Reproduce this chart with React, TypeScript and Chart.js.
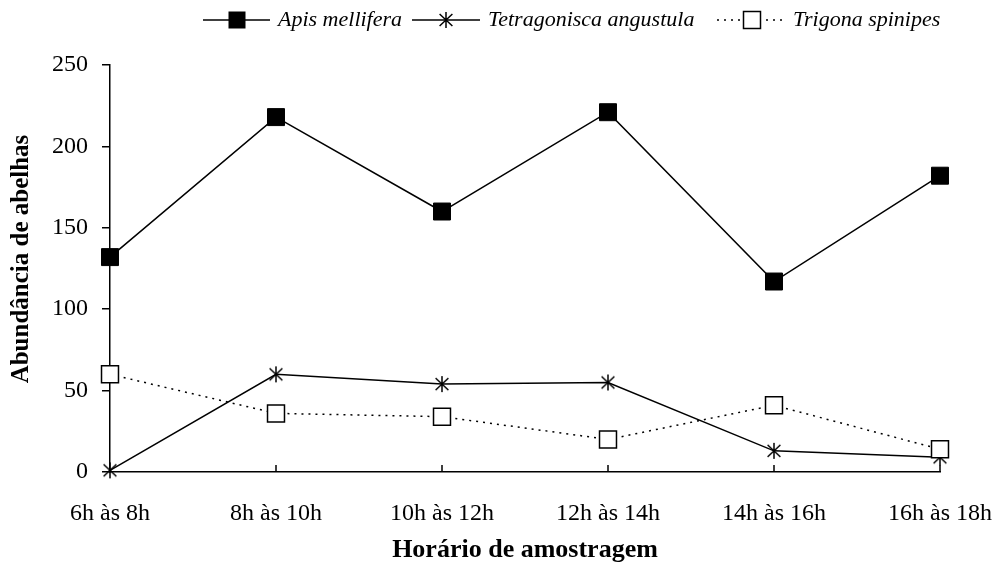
import React, { useEffect, useRef } from "react";
import { Chart, registerables } from "chart.js";

Chart.register(...registerables);

const categories = ["6h às 8h", "8h às 10h", "10h às 12h", "12h às 14h", "14h às 16h", "16h às 18h"];
const apisMellifera = [132, 218, 160, 221, 117, 182];
const tetragoniscaAngustula = [1, 60, 54, 55, 13, 9];
const trigonaSpinipes = [60, 36, 34, 20, 41, 14];
const seriesNames = ["Apis mellifera", "Tetragonisca angustula", "Trigona spinipes"];
const yMin = 0;
const yMax = 250;
const yStep = 50;
const xTitle = "Horário de amostragem";
const yTitle = "Abundância de abelhas";

const FAMILY = '"Liberation Serif", "Times New Roman", serif';

function drawAsterisk(ctx: CanvasRenderingContext2D, cx: number, cy: number, s: number) {
  ctx.save();
  ctx.strokeStyle = "#000";
  ctx.lineWidth = 1.5;
  ctx.beginPath();
  ctx.moveTo(cx, cy - s);
  ctx.lineTo(cx, cy + s);
  ctx.moveTo(cx - s * 0.8, cy - s * 0.75);
  ctx.lineTo(cx + s * 0.8, cy + s * 0.75);
  ctx.moveTo(cx - s * 0.8, cy + s * 0.75);
  ctx.lineTo(cx + s * 0.8, cy - s * 0.75);
  ctx.stroke();
  ctx.restore();
}

function makeAsterisk(): HTMLCanvasElement {
  const c = document.createElement("canvas");
  c.width = 20;
  c.height = 20;
  const ctx = c.getContext("2d")!;
  drawAsterisk(ctx, 10, 10, 8);
  return c;
}

const legendPlugin = {
  id: "customLegend",
  afterDraw(chart: any) {
    const ctx: CanvasRenderingContext2D = chart.ctx;
    const y = 20;
    ctx.save();
    ctx.font = `italic 22px ${FAMILY}`;
    ctx.fillStyle = "#000";
    ctx.textBaseline = "middle";
    ctx.textAlign = "left";
    const items = [
      { x0: 203, x1: 270, m: 237, tx: 278, kind: "fill", dash: [] as number[] },
      { x0: 412, x1: 480, m: 446, tx: 488, kind: "star", dash: [] as number[] },
      { x0: 717, x1: 785, m: 752, tx: 793, kind: "open", dash: [2, 5] },
    ];
    items.forEach((it, i) => {
      ctx.save();
      ctx.strokeStyle = "#000";
      ctx.lineWidth = 1.5;
      ctx.setLineDash(it.dash);
      ctx.beginPath();
      ctx.moveTo(it.x0, y);
      ctx.lineTo(it.x1, y);
      ctx.stroke();
      ctx.restore();
      if (it.kind === "fill") {
        ctx.fillRect(it.m - 8.5, y - 8.5, 17, 17);
      } else if (it.kind === "open") {
        ctx.save();
        ctx.fillStyle = "#fff";
        ctx.fillRect(it.m - 8.5, y - 8.5, 17, 17);
        ctx.strokeStyle = "#000";
        ctx.lineWidth = 1.5;
        ctx.strokeRect(it.m - 8.5, y - 8.5, 17, 17);
        ctx.restore();
      } else {
        drawAsterisk(ctx, it.m, y, 8);
      }
      ctx.fillText(seriesNames[i], it.tx, y);
    });
    // y-axis title
    ctx.save();
    ctx.translate(22, 259);
    ctx.rotate(-Math.PI / 2);
    ctx.font = `bold 25px ${FAMILY}`;
    ctx.textAlign = "center";
    ctx.textBaseline = "middle";
    ctx.fillText(yTitle, 0, 0);
    ctx.restore();
    ctx.restore();
  },
};

const xTickPlugin = {
  id: "xInnerTicks",
  afterDraw(chart: any) {
    const ctx: CanvasRenderingContext2D = chart.ctx;
    const xs = chart.scales.x;
    const bottom = chart.chartArea.bottom;
    ctx.save();
    ctx.strokeStyle = "#000";
    ctx.lineWidth = 1.5;
    ctx.beginPath();
    for (let i = 1; i < categories.length; i++) {
      const px = xs.getPixelForTick(i);
      ctx.moveTo(px, bottom);
      ctx.lineTo(px, bottom - 7);
    }
    ctx.stroke();
    ctx.restore();
  },
};

export default function App() {
  const ref = useRef<HTMLCanvasElement>(null);
  useEffect(() => {
    document.body.style.margin = "0";
    const star = makeAsterisk();
    const chart = new Chart(ref.current!, {
      type: "line",
      data: {
        labels: categories,
        datasets: [
          {
            label: seriesNames[0],
            data: apisMellifera,
            borderColor: "#000",
            backgroundColor: "#000",
            borderWidth: 1.5,
            pointStyle: "rect",
            pointRadius: 12,
            pointBackgroundColor: "#000",
            pointBorderColor: "#000",
            pointBorderWidth: 1,
            clip: false,
            order: 2,
          },
          {
            label: seriesNames[1],
            data: tetragoniscaAngustula,
            borderColor: "#000",
            borderWidth: 1.5,
            pointStyle: star as any,
            pointRadius: 10,
            clip: false,
            order: 1,
          },
          {
            label: seriesNames[2],
            data: trigonaSpinipes,
            borderColor: "#000",
            borderWidth: 1.5,
            borderDash: [2, 5],
            pointStyle: "rect",
            pointRadius: 12,
            pointBackgroundColor: "#fff",
            pointBorderColor: "#000",
            pointBorderWidth: 1.5,
            clip: false,
            order: 0,
          },
        ],
      },
      options: {
        animation: false,
        responsive: false,
        devicePixelRatio: 1,
        layout: { padding: { top: 65, right: 58, bottom: 0, left: 0 } },
        plugins: { legend: { display: false }, tooltip: { enabled: false } },
        elements: { line: { tension: 0 } },
        scales: {
          x: {
            offset: false,
            ticks: {
              color: "#000",
              font: { family: FAMILY, size: 24 },
              padding: 27,
              maxRotation: 0,
              autoSkip: false,
            },
            grid: { display: false, drawTicks: false },
            border: { display: true, color: "#000", width: 1.5 },
            title: {
              display: true,
              text: xTitle,
              color: "#000",
              font: { family: FAMILY, size: 26, weight: "bold" },
              padding: { top: 0, bottom: 5 },
            },
            afterFit: (s: any) => {
              s.height = 99;
              s.paddingLeft = 0;
              s.paddingRight = 0;
            },
          },
          y: {
            min: yMin,
            max: yMax,
            ticks: {
              stepSize: yStep,
              color: "#000",
              font: { family: FAMILY, size: 24 },
              padding: 14,
            },
            grid: {
              drawOnChartArea: false,
              drawTicks: true,
              tickLength: 8,
              color: "#000",
              lineWidth: 1.5,
            },
            border: { display: true, color: "#000", width: 1.5 },
            title: { display: false },
            afterFit: (s: any) => {
              s.width = 110;
              s.paddingTop = 0;
              s.paddingBottom = 0;
            },
          },
        },
      },
      plugins: [legendPlugin, xTickPlugin],
    });
    return () => chart.destroy();
  }, []);
  return (
    <div style={{ width: 998, height: 571, background: "#fff" }}>
      <canvas ref={ref} width={998} height={571} />
    </div>
  );
}
